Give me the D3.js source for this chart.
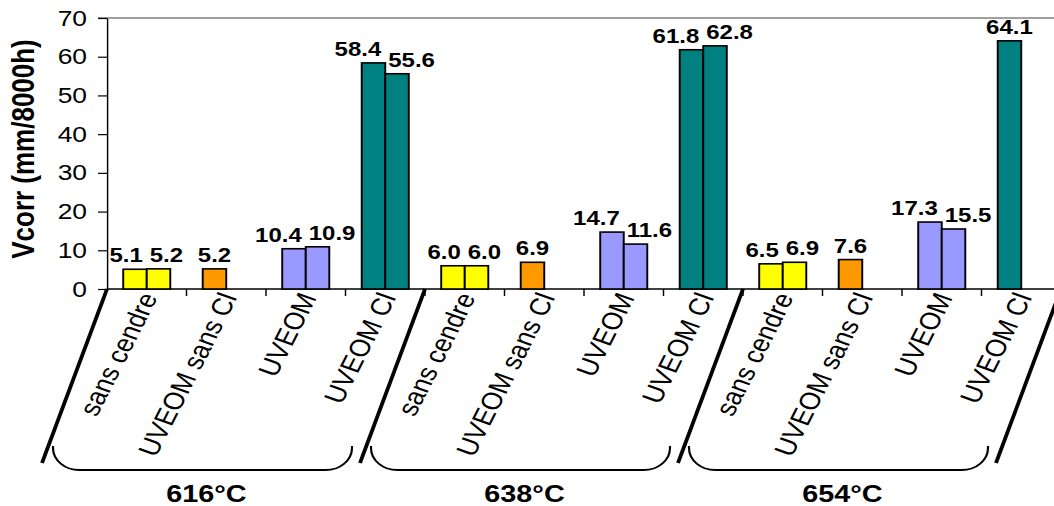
<!DOCTYPE html>
<html>
<head>
<meta charset="utf-8">
<script src="https://cdn.jsdelivr.net/npm/d3@7/dist/d3.min.js"></script>
<style>
  html, body { margin: 0; padding: 0; background: #fff; }
  svg { display: block; font-family: "Liberation Sans", Arial, sans-serif; }
</style>
</head>
<body>
<svg id="chart" width="1054" height="506"></svg>
<script>
// ---- data ----
const groups = ["616°C", "638°C", "654°C"];
const categories = ["sans cendre", "UVEOM sans Cl", "UVEOM", "UVEOM Cl"];
const series1 = [5.1, 5.2, 10.4, 58.4, 6.0, 6.9, 14.7, 61.8, 6.5, 7.6, 17.3, 64.1];
const series2 = [5.2, null, 10.9, 55.6, 6.0, null, 11.6, 62.8, 6.9, null, 15.5, null];
const categoryColors = ["#FFFF00", "#FF9900", "#9999FF", "#008080"];
const yTicks = [0, 10, 20, 30, 40, 50, 60, 70];
const yTitle = "Vcorr (mm/8000h)";

// ---- layout (picture is horizontally stretched) ----
const SX = 1.2;
const px = v => v / SX;

const svg = d3.select("#chart");
const g = svg.append("g").attr("transform", `scale(${SX},1)`);

const items = d3.range(series1.length);
const x0 = d3.scaleBand().domain(items).range([px(107), px(1061)])
  .paddingInner(0.408).paddingOuter(0.204);
const x1 = d3.scaleBand().domain([0, 1]).range([0, x0.bandwidth()]);
const y = d3.scaleLinear().domain([0, 70]).range([289, 18]);

const left = x0.range()[0], right = x0.range()[1];

// top border
g.append("line").attr("x1", px(98)).attr("x2", right).attr("y1", y(70)).attr("y2", y(70))
  .attr("stroke", "#808080").attr("stroke-width", 1.6);

// y axis
const yAxis = d3.axisLeft(y).tickValues(yTicks).tickSize(px(9)).tickSizeOuter(0).tickPadding(px(11));
const ya = g.append("g").attr("transform", `translate(${left},0)`).call(yAxis);
ya.select(".domain").attr("stroke", "#000").attr("stroke-width", 1.2);
ya.selectAll(".tick line").attr("stroke", "#000").attr("stroke-width", 1.2);
ya.selectAll(".tick text").attr("font-size", 22).attr("fill", "#000")
  .attr("font-family", "'Liberation Sans', Arial, sans-serif");

// x axis line and ticks between categories
g.append("line").attr("x1", left).attr("x2", right).attr("y1", y(0)).attr("y2", y(0))
  .attr("stroke", "#000").attr("stroke-width", 1.4);
g.selectAll("line.xtick").data(d3.range(1, series1.length)).join("line")
  .attr("class", "xtick")
  .attr("x1", i => left + i * x0.step()).attr("x2", i => left + i * x0.step())
  .attr("y1", y(0)).attr("y2", y(0) + 7)
  .attr("stroke", "#000").attr("stroke-width", 1.2);

// bars
const barData = [];
items.forEach(i => {
  [series1[i], series2[i]].forEach((v, s) => {
    if (v !== null) barData.push({ i, s, v, pair: series2[i] !== null });
  });
});
g.selectAll("rect.bar").data(barData).join("rect")
  .attr("class", "bar")
  .attr("x", d => x0(d.i) + x1(d.s))
  .attr("y", d => y(d.v))
  .attr("width", x1.bandwidth())
  .attr("height", d => y(0) - y(d.v))
  .attr("fill", d => categoryColors[d.i % categories.length])
  .attr("stroke", "#000").attr("stroke-width", 1.6);

// value labels
g.selectAll("text.val").data(barData).join("text")
  .attr("class", "val")
  .attr("x", d => {
    const c = x0(d.i) + x0.bandwidth() / 2;
    if (!d.pair) return x0(d.i) + x1(d.s) + x1.bandwidth() / 2;
    return d.s === 0 ? c - px(4) : c + px(3);
  })
  .attr("y", d => y(d.v) - 7)
  .attr("text-anchor", d => !d.pair ? "middle" : (d.s === 0 ? "end" : "start"))
  .attr("font-size", 20).attr("font-weight", "bold").attr("fill", "#000")
  .text(d => d.v.toFixed(1));

// category labels (rotated)
g.selectAll("text.cat").data(items).join("text")
  .attr("class", "cat")
  .attr("transform", i => `translate(${x0(i) + x0.bandwidth() / 2 + px(2)},${y(0) + 5}) rotate(-67)`)
  .attr("text-anchor", "end").attr("dy", "0.35em")
  .attr("font-size", 24).attr("fill", "#000")
  .text(i => categories[i % categories.length]);

// group separators
const sepTop = d3.range(groups.length + 1).map(k => left + k * categories.length * x0.step());
const slant = px(65);
g.selectAll("line.sep").data(sepTop).join("line")
  .attr("class", "sep")
  .attr("x1", d => d).attr("y1", y(0))
  .attr("x2", d => d - slant).attr("y2", 463)
  .attr("stroke", "#000").attr("stroke-width", 3.2);

// brackets
const r = 22, bTop = 446, bBot = 470;
const brackets = groups.map((name, k) => {
  const l = sepTop[k] - slant + px(11);
  const rr = sepTop[k + 1] - slant - px(8);
  return { name, l, r: rr };
});
g.selectAll("path.bracket").data(brackets).join("path")
  .attr("class", "bracket")
  .attr("d", d => `M${d.l},${bTop} L${d.l},${bBot - r} A${r},${r} 0 0 0 ${d.l + r},${bBot} ` +
                  `L${d.r - r},${bBot} A${r},${r} 0 0 0 ${d.r},${bBot - r} L${d.r},${bTop}`)
  .attr("fill", "none").attr("stroke", "#000").attr("stroke-width", 1.8);

g.selectAll("text.grp").data(brackets).join("text")
  .attr("class", "grp")
  .attr("x", d => (d.l + d.r) / 2 + px(4)).attr("y", 502)
  .attr("text-anchor", "middle")
  .attr("font-size", 24).attr("font-weight", "bold").attr("fill", "#000")
  .text(d => d.name);

// y title
g.append("text")
  .attr("transform", `translate(${px(23)},149) rotate(-90)`)
  .attr("text-anchor", "middle").attr("dy", "0.35em")
  .attr("font-size", 26).attr("font-weight", "bold").attr("fill", "#000")
  .text(yTitle);
</script>
</body>
</html>
